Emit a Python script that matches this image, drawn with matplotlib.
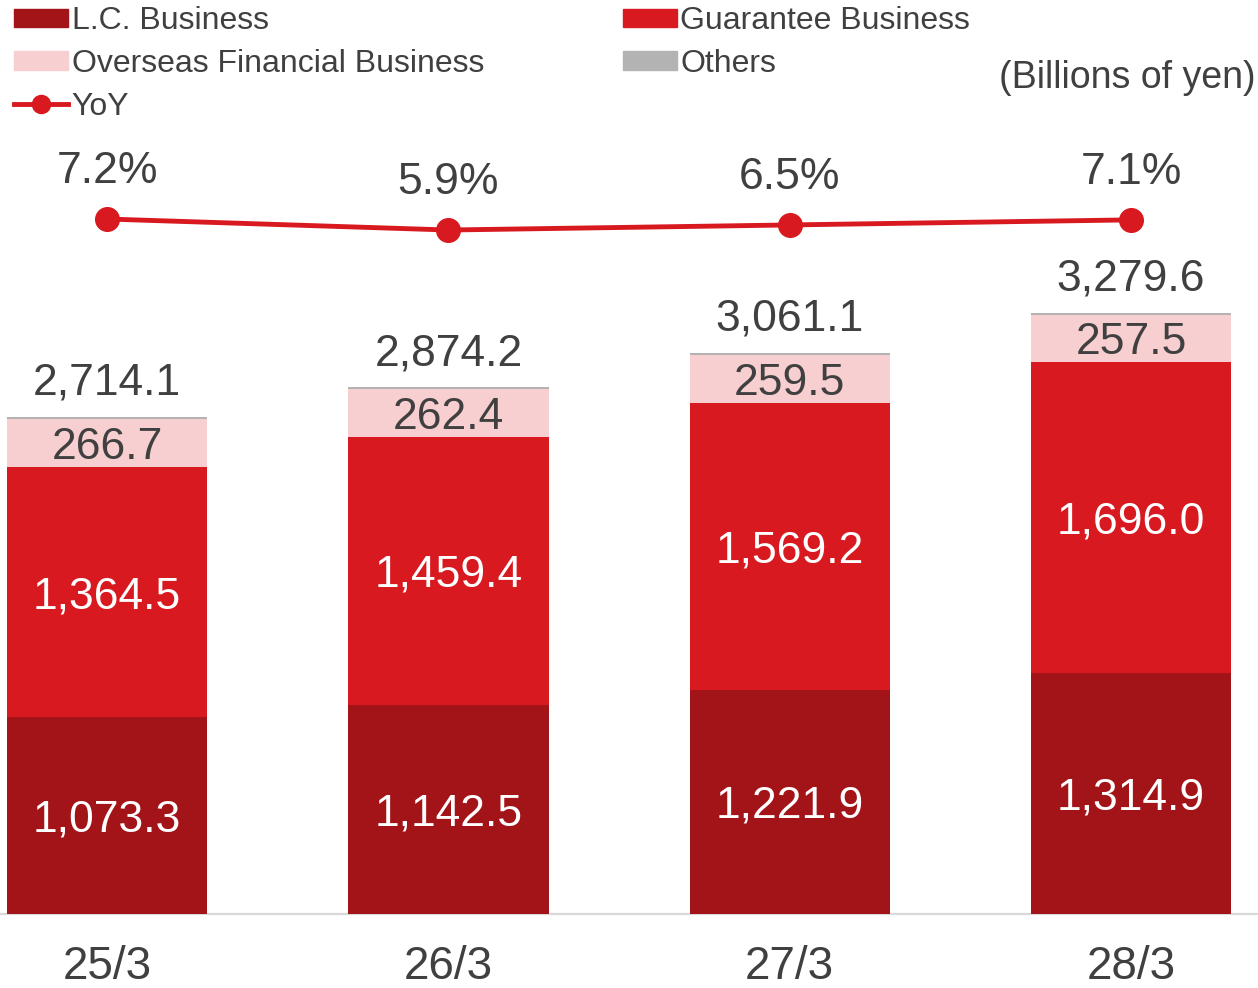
import matplotlib.pyplot as plt
from matplotlib.lines import Line2D
from matplotlib.patches import Patch

plt.rcParams['font.family'] = ['Liberation Sans', 'DejaVu Sans']

# data (billions of yen)
periods = ['25/3', '26/3', '27/3', '28/3']
lc_business = [1073.3, 1142.5, 1221.9, 1314.9]
guarantee_business = [1364.5, 1459.4, 1569.2, 1696.0]
overseas_business = [266.7, 262.4, 259.5, 257.5]
others = [9.6, 9.9, 10.5, 11.2]
totals = [2714.1, 2874.2, 3061.1, 3279.6]
yoy = [7.2, 5.9, 6.5, 7.1]

c_lc = '#A31419'
c_gu = '#D91920'
c_ov = '#F8CFD1'
c_ot = '#B3B3B3'
c_txt = '#404040'

fig = plt.figure(figsize=(12.58, 9.88), dpi=100)
ax = fig.add_axes([0, 74 / 988, 1, 914 / 988])

x = list(range(len(periods)))
w = 0.587
b1 = lc_business
b2 = [a + b for a, b in zip(b1, guarantee_business)]
b3 = [a + b for a, b in zip(b2, overseas_business)]

ax.bar(x, lc_business, w, color=c_lc, zorder=3)
ax.bar(x, guarantee_business, w, bottom=b1, color=c_gu, zorder=3)
ax.bar(x, overseas_business, w, bottom=b2, color=c_ov, zorder=3)
ax.bar(x, others, w, bottom=b3, color=c_ot, zorder=3)

fs = 32
for i in x:
    ax.annotate(f'{lc_business[i]:,.1f}', (i, lc_business[i] / 2), xytext=(0, -3),
                textcoords='offset points', ha='center', va='center', color='white',
                fontsize=fs, zorder=4)
    ax.annotate(f'{guarantee_business[i]:,.1f}', (i, b1[i] + guarantee_business[i] / 2),
                xytext=(0, -3), textcoords='offset points', ha='center', va='center',
                color='white', fontsize=fs, zorder=4)
    ax.annotate(f'{overseas_business[i]:,.1f}', (i, b2[i] + overseas_business[i] / 2),
                xytext=(0, -3), textcoords='offset points', ha='center', va='center',
                color=c_txt, fontsize=fs, zorder=4)
    ax.annotate(f'{totals[i]:,.1f}', (i, totals[i]), xytext=(0, 16), textcoords='offset points',
                ha='center', va='baseline', color=c_txt, fontsize=fs)

ax.set_xlim(-0.314, 3.372)
ax.set_ylim(0, 4989)
ax.set_yticks([])
ax.set_xticks(x, periods)
ax.tick_params(axis='x', length=0, pad=22, labelsize=33, labelcolor=c_txt)
for s in ['top', 'left', 'right']:
    ax.spines[s].set_visible(False)
ax.spines['bottom'].set_color('#D9D9D9')
ax.spines['bottom'].set_linewidth(1.6)

# YoY line on its own scale
ax2 = ax.twinx()
ax2.plot(x, yoy, color=c_gu, lw=3.5, marker='o', ms=17, zorder=5)
for i in x:
    ax2.annotate(f'{yoy[i]}%', (i, yoy[i]), xytext=(0, 26), textcoords='offset points',
                 ha='center', va='baseline', color=c_txt, fontsize=fs)
ax2.set_ylim(-74.95, 33.09)
ax2.set_yticks([])
ax2.axis('off')

handles = [Patch(color=c_lc), Patch(color=c_ov),
           Line2D([], [], color=c_gu, lw=3.5, marker='o', ms=13),
           Patch(color=c_gu), Patch(color=c_ot)]
labels = ['L.C. Business', 'Overseas Financial Business', 'YoY', 'Guarantee Business', 'Others']
fig.legend(handles, labels, loc='upper left', bbox_to_anchor=(14 / 1258, 1 - 6 / 988), ncol=2,
           frameon=False, fontsize=23, borderpad=0, borderaxespad=0, handlelength=1.7,
           handleheight=0.5, handletextpad=0.1, columnspacing=4.35, labelspacing=0.4,
           labelcolor=c_txt)

fig.text(1256 / 1258, 1 - 78 / 988, '(Billions of yen)', ha='right', va='center',
         fontsize=27, color=c_txt)

fig.savefig('out.png', dpi=100)
